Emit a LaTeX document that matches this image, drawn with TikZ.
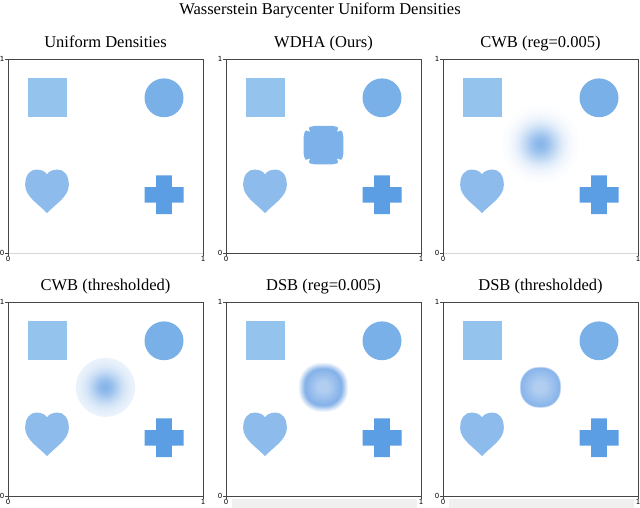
\documentclass[tikz,border=0pt]{standalone}
\usepackage{fontspec}
\setmainfont{Liberation Serif}
\newfontfamily\tickfont{DejaVu Sans}

\definecolor{sqblue}{RGB}{148,195,238}
\definecolor{ciblue}{RGB}{122,176,232}
\definecolor{heblue}{RGB}{140,187,236}
\definecolor{crblue}{RGB}{92,158,228}
\definecolor{bablue}{RGB}{124,178,233}
\definecolor{glowblue}{RGB}{100,160,228}
\definecolor{dsbblue}{RGB}{92,152,226}
\definecolor{axgray}{RGB}{70,70,70}
\definecolor{axlight}{RGB}{215,215,215}
\definecolor{stripgray}{RGB}{240,240,240}

\tikzset{
  panel/.style={x=195pt,y=194pt},
  frame/.style={axgray,line width=0.8pt},
  tick/.style={axgray,line width=0.5pt},
  ticklab/.style={font=\tickfont\fontsize{7}{8}\selectfont,inner sep=0.5pt},
  paneltitle/.style={font=\fontsize{16.5}{18}\selectfont,anchor=base},
  maintitle/.style={font=\fontsize{16.5}{18}\selectfont,anchor=base}
}

% the four input densities, in axis units
\newcommand{\fourshapes}{%
  \fill[sqblue] (0.1,0.7) rectangle (0.3,0.9);
  \fill[ciblue] (0.8,0.8) circle (0.1);
  \fill[heblue] (0.2,0.205) .. controls (0.16,0.25) and (0.088,0.29) .. (0.088,0.35)
    .. controls (0.088,0.405) and (0.115,0.43) .. (0.145,0.43)
    .. controls (0.172,0.43) and (0.192,0.42) .. (0.2,0.405)
    .. controls (0.208,0.42) and (0.228,0.43) .. (0.255,0.43)
    .. controls (0.285,0.43) and (0.312,0.405) .. (0.312,0.35)
    .. controls (0.312,0.29) and (0.24,0.25) .. cycle;
  \fill[crblue] (0.76,0.2) rectangle (0.84,0.4) (0.7,0.26) rectangle (0.9,0.34);
}

\begin{document}
\begin{tikzpicture}[x=1pt,y=1pt]
  \useasboundingbox (0,0) rectangle (640,508);
  \node[maintitle] (title) at (320,493) {Wasserstein Barycenter Uniform Densities};

  % grey strips under the DSB panels
  \foreach \px in {226,443}
  {
    \begin{scope}[shift={(\px,12)},panel]
      \fill[stripgray] (0.03,-0.015) rectangle (0.98,-0.07);
    \end{scope}
  }

  \foreach \px/\py/\bc/\t[count=\i] in {
    8/255/axlight/Uniform Densities,
    226/255/axgray/WDHA (Ours),
    443/255/axlight/CWB (reg=0.005),
    8/12/axgray/CWB (thresholded),
    226/12/axgray/DSB (reg=0.005),
    443/12/axgray/DSB (thresholded)
  }
  {
    \begin{scope}[shift={(\px,\py)},panel]
      \fourshapes
      \draw[frame] (0,0) -- (0,1) -- (1,1) -- (1,0);
      \draw[frame,\bc] (0,0) -- (1,0);
      \draw[tick] (0,0) -- ++(-3pt,0) (0,1) -- ++(-3pt,0)
                  (0,0) -- ++(0,-3pt) (1,0) -- ++(0,-3pt);
      \node[ticklab,left=3pt] (ylo\i) at (0,0) {0};
      \node[ticklab,left=3pt] (yhi\i) at (0,1) {1};
      \node[ticklab,below=3pt] (xlo\i) at (0,0) {0};
      \node[ticklab,below=3pt] (xhi\i) at (1,0) {1};
      \node[paneltitle,yshift=11pt] (t\i) at (0.5,1) {\t};
    \end{scope}
  }

  % WDHA barycenter
  \begin{scope}[shift={(226,255)},panel]
    \fill[bablue,rounded corners=11pt] (0.398,0.457) rectangle (0.602,0.655);
    \foreach \sx/\sy in {-1/1,1/1,-1/-1,1/-1}
      \fill[white] (0.5+\sx*0.11,0.556+\sy*0.082) -- (0.5+\sx*0.07,0.556+\sy*0.07)
                   -- (0.5+\sx*0.082,0.556+\sy*0.11) -- cycle;
  \end{scope}

  % CWB (reg=0.005)
  \begin{scope}[shift={(443,255)},panel]
    \foreach \k in {0,...,40}
    {
      \pgfmathsetmacro\r{0.2*(1-\k/41)}
      \pgfmathsetmacro\p{76*exp(-(\r/0.1)^2)}
      \fill[glowblue!\p!white] (0.5,0.56) circle (\r);
    }
  \end{scope}

  % CWB (thresholded)
  \begin{scope}[shift={(8,12)},panel]
    \foreach \k in {0,...,30}
    {
      \pgfmathsetmacro\r{0.152*(1-\k/31)}
      \pgfmathsetmacro\p{10+68*exp(-(\r/0.085)^2)}
      \fill[glowblue!\p!white] (0.5,0.56) circle (\r);
    }
  \end{scope}

  % DSB (reg=0.005)
  \begin{scope}[shift={(226,12)},panel]
    \foreach \k in {0,...,30}
    {
      \pgfmathsetmacro\s{0.13-0.1*\k/30}
      \pgfmathsetmacro\p{\s>0.095 ? 75*(0.13-\s)/0.035 : 48+27*(\s-0.03)/0.065}
      \pgfmathsetmacro\rc{\s*175}
      \fill[dsbblue!\p!white,rounded corners=\rc pt] (0.5-\s,0.56-\s) rectangle (0.5+\s,0.56+\s);
    }
  \end{scope}

  % DSB (thresholded)
  \begin{scope}[shift={(443,12)},panel]
    \foreach \k in {0,...,30}
    {
      \pgfmathsetmacro\s{0.108-0.078*\k/30}
      \pgfmathsetmacro\p{\s>0.1 ? 72*(0.108-\s)/0.008 : 48+24*(\s-0.03)/0.07}
      \pgfmathsetmacro\rc{\s*175}
      \fill[dsbblue!\p!white,rounded corners=\rc pt] (0.5-\s,0.56-\s) rectangle (0.5+\s,0.56+\s);
    }
  \end{scope}
\end{tikzpicture}
\end{document}
